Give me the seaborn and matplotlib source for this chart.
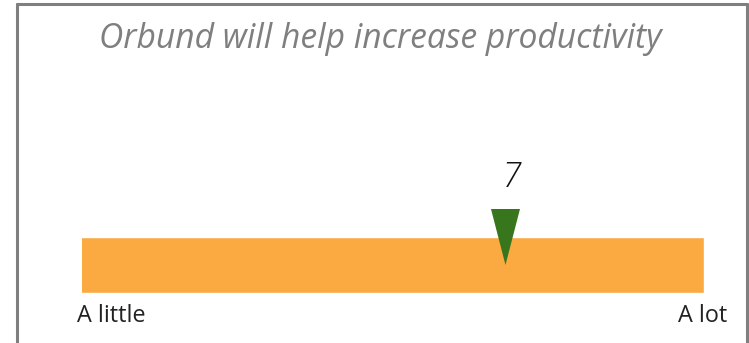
import matplotlib
matplotlib.use("Agg")
import matplotlib.pyplot as plt
import seaborn as sns

# Rating data
statement = "Orbund will help increase productivity"
score = 7
scale_low, scale_high = 0.6, 10
low_label, high_label = "A little", "A lot"

W, H, DPI = 749, 343, 100
sns.set_theme(style="white")
plt.rcParams["font.family"] = ["Open Sans", "DejaVu Sans"]

fig = plt.figure(figsize=(W / DPI, H / DPI), dpi=DPI)

# Axes hugging the bar: x 82..704 px, y 237..293 px
bar_l, bar_r, bar_t, bar_b = 82, 704, 237, 293
ax = fig.add_axes([bar_l / W, 1 - bar_b / H, (bar_r - bar_l) / W, (bar_b - bar_t) / H])
sns.barplot(x=[scale_high], y=["rating"], orient="h", color="#FBAA42",
            saturation=1, width=1.0, ax=ax)
ax.set_xlim(scale_low, scale_high)
ax.set_ylim(0.5, -0.5)
ax.axis("off")

# Down-pointing marker at the score
px_per_unit = (bar_r - bar_l) / (scale_high - scale_low)
half_w = 14.5 / px_per_unit
ax.fill([score - half_w, score + half_w, score],
        [-1.0, -1.0, 0.0], color="#38761D", clip_on=False, zorder=5, lw=0)
ax.text(score + 6 / px_per_unit, -0.5 - 50 / 56, str(score), ha="center",
        va="baseline", fontsize=25, style="italic", color="#111111",
        fontweight="light", clip_on=False)

# Title and end labels
fig.text(380.5 / W, 1 - 48 / H, statement, ha="center", va="baseline",
         fontsize=24.2, style="italic", color="#7F7F7F")
fig.text(77 / W, 1 - 322 / H, low_label, ha="left", va="baseline",
         fontsize=16.8, color="#222222")
fig.text(727 / W, 1 - 322 / H, high_label, ha="right", va="baseline",
         fontsize=16.8, color="#222222")

# Frame (open at the bottom)
frame = dict(color="#7F7F7F", lw=2.2, transform=fig.transFigure, clip_on=False)
fig.add_artist(plt.Line2D([17 / W, 17 / W], [0, 1 - 4 / H], **frame))
fig.add_artist(plt.Line2D([17 / W, 747 / W], [1 - 4 / H, 1 - 4 / H], **frame))
fig.add_artist(plt.Line2D([747 / W, 747 / W], [0, 1 - 4 / H], **frame))

fig.savefig("out.png", dpi=DPI)
